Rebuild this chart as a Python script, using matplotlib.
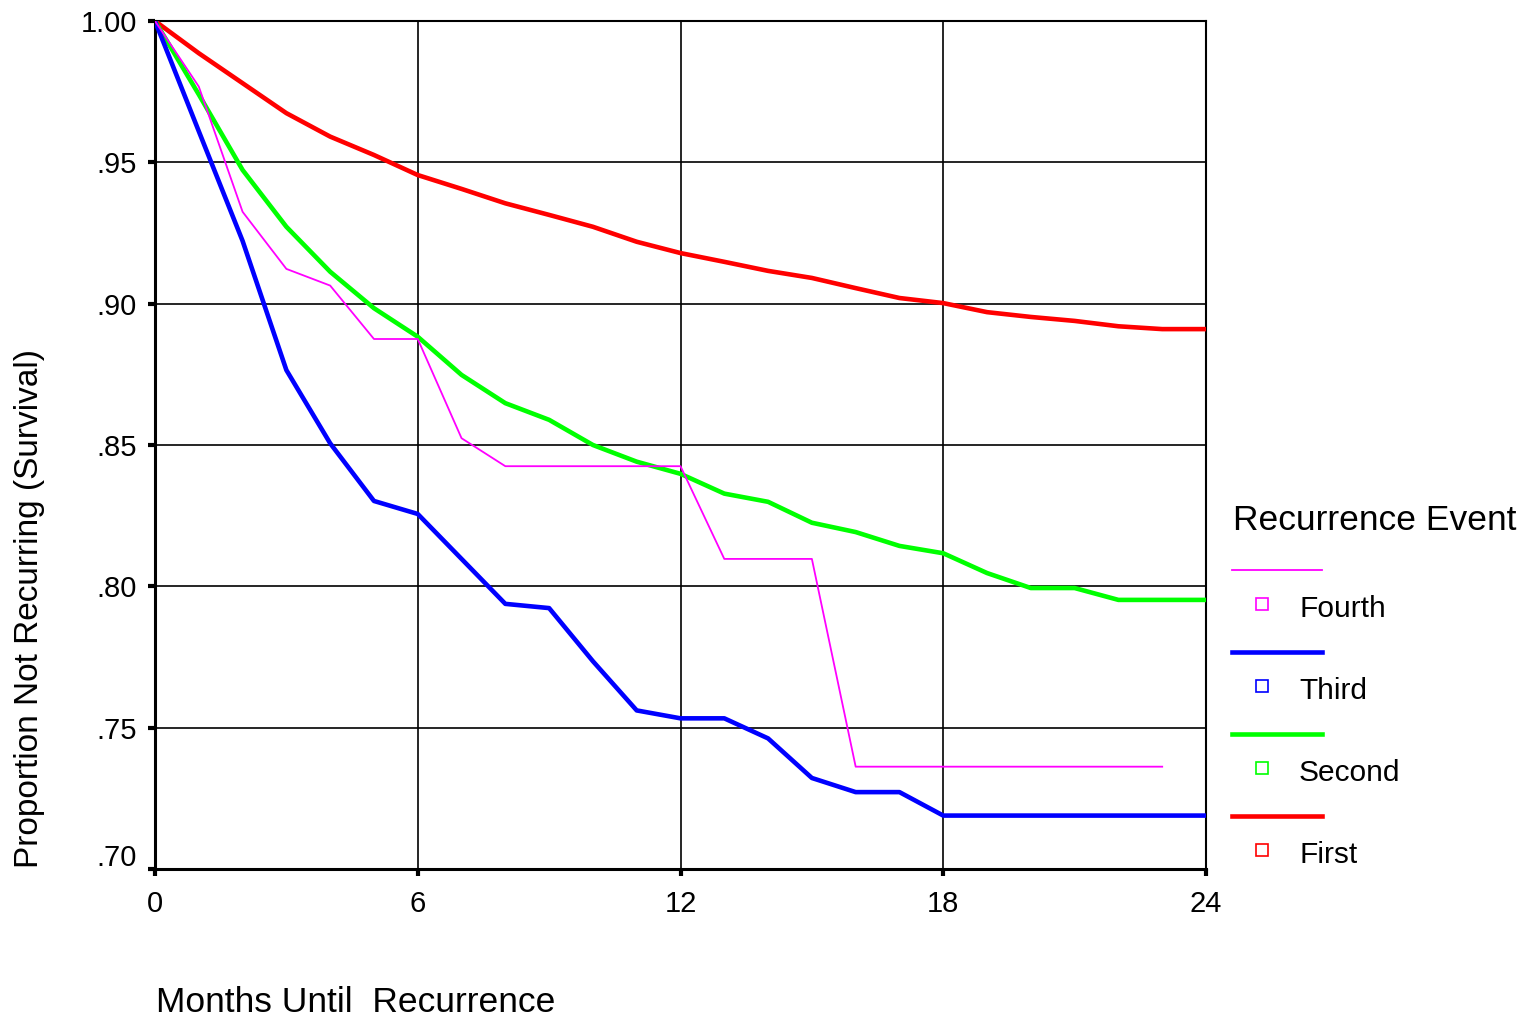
import matplotlib
matplotlib.use("Agg")
import matplotlib.pyplot as plt
from matplotlib.lines import Line2D
from matplotlib.transforms import ScaledTranslation

plt.rcParams['font.family'] = ['Liberation Sans', 'DejaVu Sans']

months = list(range(25))
first = [1.0, 0.9886, 0.978, 0.9674, 0.9591, 0.9526, 0.9455, 0.9406, 0.9355, 0.9314,
         0.9272, 0.9219, 0.9179, 0.9148, 0.9116, 0.9091, 0.9055, 0.902, 0.9002, 0.897,
         0.8953, 0.8939, 0.892, 0.891, 0.891]
second = [1.0, 0.974, 0.9473, 0.9272, 0.9113, 0.8984, 0.8883, 0.8748, 0.8648, 0.8589,
          0.850, 0.8441, 0.8398, 0.8328, 0.8299, 0.8225, 0.8192, 0.8143, 0.8117, 0.8047,
          0.7994, 0.7994, 0.7952, 0.7952, 0.7952]
third = [1.0, 0.961, 0.9222, 0.8765, 0.8506, 0.8302, 0.8256, 0.8097, 0.7938, 0.7923,
         0.7735, 0.7561, 0.7533, 0.7533, 0.7462, 0.7322, 0.7272, 0.7272, 0.7189, 0.7189,
         0.7189, 0.7189, 0.7189, 0.7189, 0.7189]
fourth_months = list(range(24))
fourth = [1.0, 0.9768, 0.9325, 0.9123, 0.9064, 0.8875, 0.8875, 0.8524, 0.8425, 0.8425,
          0.8425, 0.8425, 0.8425, 0.8097, 0.8097, 0.8097, 0.7362, 0.7362, 0.7362, 0.7362,
          0.7362, 0.7362, 0.7362, 0.7362]

x_ticks = [0, 6, 12, 18, 24]
y_ticks = [0.70, 0.75, 0.80, 0.85, 0.90, 0.95, 1.00]
y_labels = ['.70', '.75', '.80', '.85', '.90', '.95', '1.00']

legend_names = ['Fourth', 'Third', 'Second', 'First']
legend_colors = ['#FF00FF', '#0000FF', '#00FF00', '#FF0000']
legend_widths = [1.3, 3.3, 3.3, 3.3]

W, H = 1535, 1019
fig = plt.figure(figsize=(W / 100, H / 100), dpi=100)
ax = fig.add_axes([155 / W, 1 - 869 / H, (1206 - 155) / W, (869 - 21) / H])

ax.plot(months, first, color='#FF0000', lw=3.3, zorder=3)
ax.plot(months, second, color='#00FF00', lw=3.3, zorder=3)
ax.plot(months, third, color='#0000FF', lw=3.3, zorder=3)
ax.plot(fourth_months, fourth, color='#FF00FF', lw=1.3, zorder=4)

ax.set_xlim(0, 24)
ax.set_ylim(0.70, 1.00)
ax.set_xticks(x_ticks)
ax.set_yticks(y_ticks)
ax.set_yticklabels(y_labels)
ax.tick_params(axis='both', labelsize=21, length=5, width=3, direction='out', color='black')
ax.tick_params(axis='y', pad=8)
ax.tick_params(axis='x', pad=10)
ax.grid(True, color='black', lw=1.2)
for s in ax.spines.values():
    s.set_linewidth(1.5)
ax.spines['left'].set_linewidth(2.2)
ax.spines['bottom'].set_linewidth(2.2)

# the bottom y label sits a bit above its tick
lab70 = ax.get_yticklabels()[0]
lab70.set_transform(lab70.get_transform() + ScaledTranslation(0, 0.14, fig.dpi_scale_trans))

fig.text(30 / W, 1 - 868 / H, 'Proportion Not Recurring (Survival)', rotation=90,
         ha='center', va='bottom', fontsize=24)
fig.text(156 / W, 1 - 1002 / H, 'Months Until  Recurrence', ha='left', va='center', fontsize=25.5)

# legend built by hand to match the stacked line / square / label layout
fig.text(1233 / W, 1 - 521 / H, 'Recurrence Event', ha='left', va='center', fontsize=25.5)
for i, (name, col, lw) in enumerate(zip(legend_names, legend_colors, legend_widths)):
    yl = 570 + i * 82
    ys = 604 + i * 82
    fig.add_artist(Line2D([1232 / W, 1322 / W], [1 - yl / H, 1 - yl / H], color=col, lw=lw,
                          transform=fig.transFigure))
    fig.add_artist(Line2D([1262 / W], [1 - ys / H], marker='s', markersize=9, markerfacecolor='none',
                          markeredgecolor=col, markeredgewidth=1.2, linestyle='none',
                          transform=fig.transFigure))
    fig.text(1299 / W, 1 - (ys + 5) / H, name, ha='left', va='center', fontsize=21.5)

fig.savefig('out.png', dpi=100)
